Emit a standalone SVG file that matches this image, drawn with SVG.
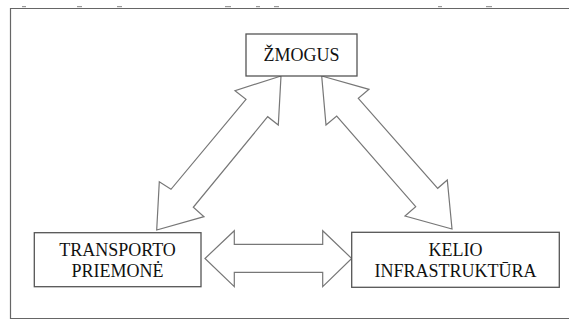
<svg xmlns="http://www.w3.org/2000/svg" width="569" height="320" viewBox="0 0 569 320">
<style>
.box{fill:#fff;stroke:#555;stroke-width:1.3}
.arr{fill:#fff;stroke:#777;stroke-width:1.2;stroke-linejoin:miter}
.t{font-family:"Liberation Serif","Times New Roman",serif;font-size:18px;fill:#111;text-anchor:middle}
.mark{fill:#999}
</style>
<rect width="569" height="320" fill="#fff"/>
<g id="frame">
<path d="M575 8.5 H10.5 V318.5 H575" fill="none" stroke="#666" stroke-width="1.2"/>
<rect class="mark" x="22" y="6" width="4" height="1.2"/>
<rect class="mark" x="77" y="6" width="5" height="1.2"/>
<rect class="mark" x="117" y="6" width="5" height="1.2"/>
<rect class="mark" x="225" y="6" width="6" height="1.2"/>
<rect class="mark" x="256" y="6" width="4" height="1.2"/>
<rect class="mark" x="274" y="6" width="5" height="1.2"/>
<rect class="mark" x="438" y="6" width="4" height="1.2"/>
<rect class="mark" x="486" y="6" width="6" height="1.2"/>
</g>
<g id="connectors">
<path class="arr" d="M281 76 L235 90.7 L246 99.3 L171 189.3 L159.3 181.7 L156.7 230 L204 216.7 L193.3 207.3 L267.7 116.7 L278.3 125 Z"/>
<path class="arr" d="M321.7 76 L369 89.3 L358.3 98.3 L437.7 188.3 L447.3 180 L452 229 L405 216 L415.7 206.7 L336.7 116 L326 125 Z"/>
<path class="arr" d="M205 258.5 L234.3 230.7 L234.3 244.3 L322.7 244.3 L322.7 230.7 L351.7 258.5 L322.7 286.7 L322.7 272.3 L234.3 272.3 L234.3 286.7 Z"/>
</g>
<g id="zmogus">
<rect class="box" x="246" y="34" width="111" height="42"/>
<text class="t" x="301.5" y="61">ŽMOGUS</text>
</g>
<g id="transporto">
<rect class="box" x="34.3" y="232.7" width="166.7" height="54"/>
<text class="t" x="117.5" y="256">TRANSPORTO</text>
<text class="t" x="117.5" y="277">PRIEMONĖ</text>
</g>
<g id="kelio">
<rect class="box" x="351.7" y="232.3" width="207.6" height="55"/>
<text class="t" x="455.5" y="256">KELIO</text>
<text class="t" x="455.5" y="277">INFRASTRUKTŪRA</text>
</g>
</svg>
